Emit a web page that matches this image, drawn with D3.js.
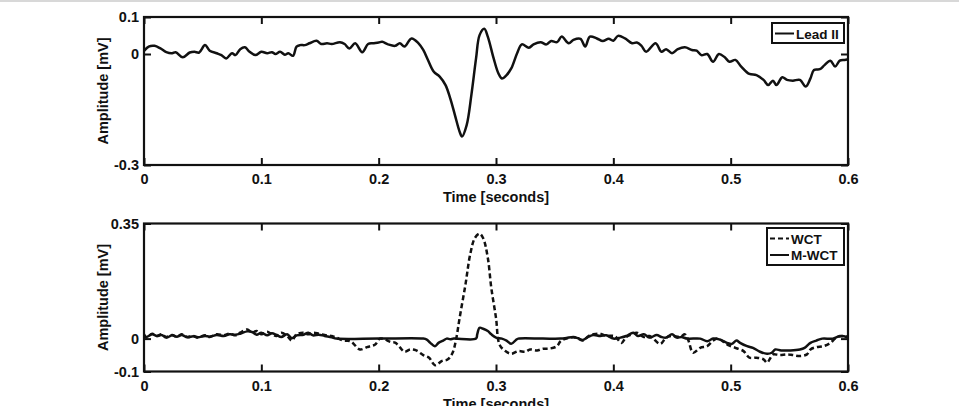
<!DOCTYPE html>
<html>
<head>
<meta charset="utf-8">
<script src="https://cdn.jsdelivr.net/npm/d3@7"></script>
<style>
  body { margin: 0; background: #fff; }
  svg { display: block; font-family: "Liberation Sans", Arial, Helvetica, sans-serif; font-weight: bold; }
</style>
</head>
<body>
<svg id="chart" width="959" height="406"></svg>
<script>
// ---- data (time in seconds, amplitude in mV) ----
const xTicks = [0, 0.1, 0.2, 0.3, 0.4, 0.5, 0.6]
const topYTicks = [-0.3, 0, 0.1]
const bottomYTicks = [-0.1, 0, 0.35]

const leadII = [[0,0.008],[0.004,0.02],[0.009,0.022],[0.014,0.015],[0.019,0.005],[0.024,0.002],[0.027,0.005],[0.033,-0.009],[0.039,0.004],[0.043,0.006],[0.047,0.004],[0.052,0.024],[0.056,0.009],[0.062,0.002],[0.066,-0.003],[0.070,-0.012],[0.075,0.002],[0.078,-0.003],[0.082,0.013],[0.086,0.018],[0.090,0.006],[0.095,-0.003],[0.100,0.006],[0.105,0.002],[0.109,0.005],[0.112,0],[0.116,0.006],[0.120,-0.002],[0.123,0.002],[0.127,-0.005],[0.130,0.02],[0.133,0.024],[0.137,0.024],[0.141,0.029],[0.147,0.036],[0.151,0.027],[0.156,0.029],[0.160,0.027],[0.167,0.032],[0.171,0.027],[0.175,0.015],[0.180,0.029],[0.186,0.005],[0.191,0.027],[0.195,0.029],[0.200,0.031],[0.203,0.033],[0.208,0.026],[0.214,0.022],[0.218,0.029],[0.222,0.020],[0.228,0.042],[0.234,0.029],[0.238,0.011],[0.242,-0.016],[0.247,-0.048],[0.252,-0.061],[0.257,-0.084],[0.261,-0.120],[0.265,-0.165],[0.269,-0.210],[0.271,-0.223],[0.275,-0.192],[0.279,-0.111],[0.283,-0.012],[0.286,0.051],[0.290,0.068],[0.293,0.047],[0.298,-0.012],[0.302,-0.052],[0.305,-0.066],[0.309,-0.057],[0.313,-0.039],[0.318,0.002],[0.322,0.026],[0.328,0.017],[0.332,0.026],[0.338,0.032],[0.343,0.026],[0.347,0.035],[0.352,0.032],[0.356,0.047],[0.362,0.029],[0.366,0.038],[0.372,0.041],[0.376,0.020],[0.380,0.047],[0.386,0.042],[0.391,0.035],[0.396,0.041],[0.400,0.036],[0.404,0.049],[0.410,0.042],[0.416,0.029],[0.420,0.031],[0.424,0.022],[0.428,0.006],[0.436,0.029],[0.441,0.006],[0.445,0.013],[0.450,0.002],[0.455,0.013],[0.461,0.018],[0.467,0.011],[0.471,0.009],[0.475,-0.003],[0.480,0],[0.485,-0.021],[0.490,0],[0.495,-0.009],[0.499,-0.021],[0.504,-0.016],[0.509,-0.034],[0.516,-0.054],[0.522,-0.057],[0.528,-0.070],[0.532,-0.084],[0.536,-0.072],[0.539,-0.084],[0.544,-0.063],[0.548,-0.070],[0.553,-0.072],[0.559,-0.070],[0.564,-0.088],[0.568,-0.066],[0.571,-0.043],[0.576,-0.041],[0.580,-0.030],[0.585,-0.018],[0.589,-0.034],[0.593,-0.018],[0.597,-0.016],[0.600,-0.014]]

const wct = [[0,0.013],[0.002,0.003],[0.007,0.015],[0.011,0.008],[0.015,0.013],[0.019,0.005],[0.024,0.011],[0.028,0.005],[0.032,0.013],[0.037,0.005],[0.042,0.008],[0.046,0.003],[0.052,0.010],[0.056,0.005],[0.062,0.013],[0.068,0.010],[0.073,0.015],[0.078,0.010],[0.082,0.018],[0.088,0.028],[0.092,0.018],[0.096,0.023],[0.100,0.013],[0.105,0.021],[0.109,0.013],[0.113,0.008],[0.117,0.018],[0.122,0.008],[0.126,-0.006],[0.130,0.013],[0.136,0.018],[0.140,0.013],[0.144,0.018],[0.149,0.015],[0.154,0.011],[0.160,0.008],[0.164,0.003],[0.170,-0.006],[0.176,-0.008],[0.184,-0.033],[0.190,-0.026],[0.193,-0.023],[0.197,-0.018],[0.201,0],[0.205,-0.002],[0.210,-0.01],[0.214,-0.012],[0.218,-0.026],[0.222,-0.04],[0.227,-0.033],[0.232,-0.036],[0.238,-0.05],[0.243,-0.058],[0.248,-0.081],[0.254,-0.068],[0.259,-0.063],[0.263,-0.043],[0.266,-0.002],[0.269,0.063],[0.274,0.165],[0.278,0.256],[0.282,0.306],[0.286,0.319],[0.289,0.306],[0.293,0.246],[0.296,0.154],[0.300,0.063],[0.303,-0.018],[0.308,-0.038],[0.313,-0.046],[0.319,-0.038],[0.325,-0.040],[0.329,-0.033],[0.335,-0.036],[0.340,-0.031],[0.346,-0.030],[0.352,-0.023],[0.355,-0.008],[0.360,0],[0.366,0.004],[0.370,0],[0.374,-0.006],[0.379,0.008],[0.383,0.013],[0.389,0.015],[0.394,0.008],[0.401,0.008],[0.407,-0.013],[0.411,0.005],[0.416,0.013],[0.420,0.018],[0.426,0.005],[0.431,0.008],[0.440,-0.016],[0.445,0.003],[0.450,0.008],[0.457,0.005],[0.461,0.013],[0.464,-0.006],[0.468,-0.043],[0.474,-0.028],[0.480,-0.023],[0.485,-0.006],[0.489,0],[0.494,-0.010],[0.498,-0.020],[0.504,-0.028],[0.511,-0.038],[0.516,-0.058],[0.522,-0.058],[0.528,-0.063],[0.531,-0.073],[0.534,-0.058],[0.536,-0.048],[0.542,-0.050],[0.548,-0.048],[0.553,-0.050],[0.559,-0.053],[0.565,-0.048],[0.568,-0.033],[0.573,-0.026],[0.579,-0.023],[0.585,-0.013],[0.590,0.003],[0.596,0.008],[0.600,0.005]]

const mwct = [[0,0.010],[0.002,0.005],[0.007,0.013],[0.011,0.008],[0.015,0.011],[0.019,0.003],[0.024,0.010],[0.028,0.006],[0.032,0.011],[0.037,0.004],[0.042,0.007],[0.046,0.004],[0.052,0.008],[0.056,0.006],[0.062,0.011],[0.068,0.008],[0.073,0.013],[0.078,0.012],[0.082,0.015],[0.088,0.022],[0.092,0.020],[0.096,0.012],[0.100,0.018],[0.105,0.010],[0.109,0.016],[0.113,0.011],[0.117,0.005],[0.122,0.013],[0.126,0.001],[0.130,0.010],[0.136,0.012],[0.140,0.018],[0.144,0.010],[0.149,0.012],[0.154,0.008],[0.160,0.004],[0.164,0],[0.200,0],[0.238,0],[0.241,-0.003],[0.244,-0.013],[0.248,-0.023],[0.251,-0.013],[0.255,-0.006],[0.258,0],[0.261,-0.002],[0.264,0],[0.283,0],[0.284,0.013],[0.286,0.033],[0.289,0.030],[0.293,0.023],[0.296,0.013],[0.300,0.003],[0.305,0],[0.309,-0.006],[0.313,-0.016],[0.317,-0.004],[0.319,0],[0.340,0],[0.355,0],[0.360,0.002],[0.366,0.005],[0.370,0.001],[0.374,-0.004],[0.379,0.006],[0.383,0.011],[0.389,0.008],[0.394,0.010],[0.400,0],[0.406,0.003],[0.411,0.008],[0.417,0.018],[0.421,0.008],[0.426,0.013],[0.431,0.003],[0.437,0.011],[0.441,0.005],[0.445,0.003],[0.450,0.013],[0.454,0.003],[0.458,0.005],[0.463,0],[0.474,0],[0.480,-0.008],[0.485,0],[0.491,-0.003],[0.497,-0.013],[0.501,-0.016],[0.505,-0.006],[0.508,-0.013],[0.514,-0.023],[0.519,-0.028],[0.525,-0.040],[0.531,-0.046],[0.535,-0.043],[0.538,-0.033],[0.543,-0.036],[0.551,-0.036],[0.559,-0.033],[0.563,-0.028],[0.568,-0.013],[0.573,-0.006],[0.578,0],[0.587,0],[0.593,0.008],[0.599,0.005],[0.600,0.003]]

// ---- layout ----
const svg = d3.select('#chart')
const left = 144, right = 848

svg.append('line').attr('x1',0).attr('x2',959).attr('y1',1).attr('y2',1)
  .attr('stroke','#d8d8d8').attr('stroke-width',2)

const x = d3.scaleLinear().domain([0, 0.6]).range([left, right])
const fmt = d => d === 0 ? '0' : String(d)

function panel(top, bottom, yDomain, yTicks, series, legend, id) {
  const y = d3.scaleLinear().domain(yDomain).range([bottom, top])
  const g = svg.append('g')

  g.append('clipPath').attr('id', id).append('rect')
    .attr('x', left).attr('y', top).attr('width', right-left).attr('height', bottom-top)

  const line = d3.line().x(d => x(d[0])).y(d => y(d[1])).curve(d3.curveCatmullRom)
  series.forEach(s => {
    g.append('path').attr('d', line(s.data)).attr('fill','none')
      .attr('stroke','#111').attr('stroke-width',2.5)
      .attr('stroke-dasharray', s.dash || null)
      .attr('stroke-linejoin','round')
      .attr('clip-path', `url(#${id})`)
  })

  // axes with inward ticks
  g.append('g').attr('transform',`translate(0,${bottom})`)
    .call(d3.axisBottom(x).tickValues(xTicks).tickFormat(fmt).tickSize(-7).tickSizeOuter(0).tickPadding(9))
  g.append('g').attr('transform',`translate(0,${top})`)
    .call(d3.axisTop(x).tickValues(xTicks).tickFormat('').tickSize(-7).tickSizeOuter(0))
  g.append('g').attr('transform',`translate(${left},0)`)
    .call(d3.axisLeft(y).tickValues(yTicks).tickFormat(fmt).tickSize(-7).tickSizeOuter(0).tickPadding(5))
  g.append('g').attr('transform',`translate(${right},0)`)
    .call(d3.axisRight(y).tickValues(yTicks).tickFormat('').tickSize(-7).tickSizeOuter(0))
  g.selectAll('.domain').remove()
  g.selectAll('.tick line').attr('stroke','#111').attr('stroke-width',2)
  g.selectAll('.tick text').attr('fill','#111').style('font-size','14.5px').style('font-weight','bold')

  g.append('rect').attr('x',left).attr('y',top).attr('width',right-left).attr('height',bottom-top)
    .attr('fill','none').attr('stroke','#111').attr('stroke-width',2.2)

  g.append('text').attr('x',(left+right)/2).attr('y',bottom+37)
    .attr('text-anchor','middle').style('font-size','14.5px').attr('fill','#111')
    .text('Time [seconds]')
  g.append('text').attr('transform',`translate(108,${(top+bottom)/2}) rotate(-90)`)
    .attr('text-anchor','middle').style('font-size','14.5px').attr('fill','#111')
    .text('Amplitude [mV]')

  // legend
  const lg = g.append('g')
  lg.append('rect').attr('x',legend.x).attr('y',legend.y).attr('width',legend.w).attr('height',legend.h)
    .attr('fill','#fff').attr('stroke','#111').attr('stroke-width',2)
  series.forEach((s,i) => {
    const ly = legend.y + 10.5 + i*16.5
    lg.append('line').attr('x1',legend.x+3).attr('x2',legend.x+22).attr('y1',ly).attr('y2',ly)
      .attr('stroke','#111').attr('stroke-width',2).attr('stroke-dasharray', s.dash || null)
    lg.append('text').attr('x',legend.x+24).attr('y',ly+5)
      .style('font-size','13.5px').attr('fill','#111').text(s.name)
  })
}

panel(17, 165, [-0.3, 0.1], topYTicks,
  [{name:'Lead II', data: leadII}],
  {x:772, y:23, w:72, h:20}, 'clipTop')

panel(223.5, 371.5, [-0.1, 0.35], bottomYTicks,
  [{name:'WCT', data: wct, dash:'5,3'}, {name:'M-WCT', data: mwct}],
  {x:767, y:228, w:77, h:37}, 'clipBottom')
</script>
</body>
</html>
